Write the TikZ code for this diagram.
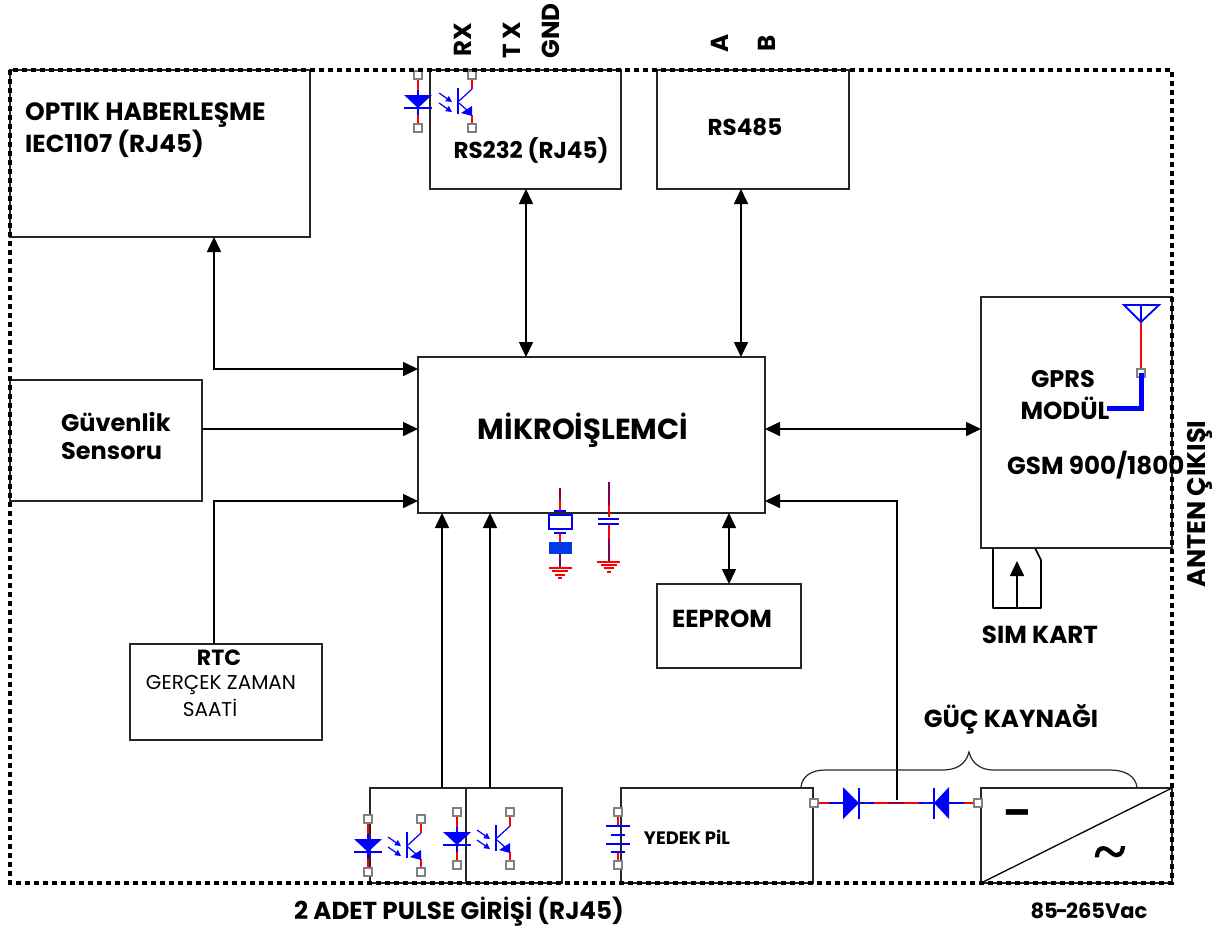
\documentclass[tikz,border=0pt]{standalone}
\usepackage{fontspec}
\setmainfont{Poppins}[BoldFont={Poppins Bold}]
\newfontfamily\tildefont[FakeBold=2]{Liberation Serif}
\usetikzlibrary{arrows.meta,calc}
\definecolor{wred}{RGB}{255,0,0}
\definecolor{wblue}{RGB}{0,0,255}
\definecolor{wpur}{RGB}{128,0,80}
\tikzset{
  box/.style={draw=black!85,line width=1.3pt,anchor=north west,inner sep=0pt,outer sep=0pt},
  conn/.style={draw=black,line width=1.6pt},
  tipone/.style={conn,-{Triangle[length=15pt,width=14pt]}},
  tiptwo/.style={conn,{Triangle[length=15pt,width=14pt]}-{Triangle[length=15pt,width=14pt]}},
  lab/.style={font=\bfseries\fontsize{24.6}{26}\selectfont,inner sep=0pt,text=black},
  labl/.style={lab,anchor=west},
  port/.style={draw=black!50,fill=white,line width=1.6pt},
  rw/.style={draw=wred,line width=1.8pt},
  bw/.style={draw=wblue,line width=1.8pt},
  pw/.style={draw=wpur,line width=1.8pt},
  brace/.style={draw=black!85,line width=1.2pt},
}
\newcommand{\pport}[2]{\draw[port] (#1-4,#2-4) rectangle (#1+4,#2+4);}
\newcommand{\pled}[2]{% x, y of the upper port
  \draw[rw] (#1,#2+4) -- (#1,#2+15);
  \draw[rw] (#1,#2+40) -- (#1,#2+49);
  \draw[bw] (#1,#2+15) -- (#1,#2+40);
  \fill[wblue] (#1-14,#2+20) -- (#1+14,#2+20) -- (#1,#2+33) -- cycle;
  \draw[bw] (#1-14,#2+33) -- (#1+14,#2+33);
  \pport{#1}{#2}\pport{#1}{#2+53}}
\newcommand{\pptr}[2]{% x, y of the upper port
  \draw[rw] (#1,#2+4) -- (#1,#2+14);
  \draw[rw] (#1,#2+40) -- (#1,#2+49);
  \draw[bw] (#1-14,#2+13) -- (#1-14,#2+39);
  \draw[bw,line width=1.2pt] (#1,#2+14) -- (#1-13,#2+26);
  \draw[bw,line width=1.2pt] (#1-13,#2+28) -- (#1-4,#2+36);
  \fill[wblue] (#1,#2+31) -- (#1,#2+41) -- (#1-11,#2+38) -- cycle;
  \draw[bw,line width=1.2pt,-{Triangle[length=6pt,width=6pt]}] (#1-33,#2+18) -- (#1-20,#2+27);
  \draw[bw,line width=1.2pt,-{Triangle[length=6pt,width=6pt]}] (#1-33,#2+28) -- (#1-20,#2+37);
  \pport{#1}{#2}\pport{#1}{#2+53}}
\begin{document}
\begin{tikzpicture}[x=1pt,y=-1pt]
\useasboundingbox (0,0) rectangle (1220,929);
% boxes
\node[box,minimum width=300pt,minimum height=167pt] (optik) at (10,70) {};
\node[box,minimum width=191pt,minimum height=119pt] (rs232) at (430,70) {};
\node[box,minimum width=192pt,minimum height=119pt] (rs485) at (657,70) {};
\node[box,minimum width=192pt,minimum height=121pt] (guv) at (10,380) {};
\node[box,minimum width=347pt,minimum height=156pt] (mikro) at (418,357) {};
\node[box,minimum width=191pt,minimum height=251pt] (gprs) at (981,297) {};
\node[box,minimum width=144pt,minimum height=84pt] (eeprom) at (657,584) {};
\node[box,minimum width=192pt,minimum height=96pt] (rtc) at (130,644) {};
\node[box,minimum width=96pt,minimum height=95pt] (puls1) at (370,788) {};
\node[box,minimum width=96pt,minimum height=95pt] (puls2) at (466,788) {};
\node[box,minimum width=192pt,minimum height=95pt] (pil) at (621,788) {};
\node[box,minimum width=191pt,minimum height=95pt] (conv) at (981,788) {};
\draw[black,line width=1.3pt] (conv.south west) -- (conv.north east);
% connector guides
\coordinate (optc) at (214,369);
\coordinate (rtcc) at (214,501);
\coordinate (a232) at (526,300);
\coordinate (a485) at (741,300);
\coordinate (aeep) at (729,550);
\coordinate (ap1) at (442,700);
\coordinate (ap2) at (490,700);
\coordinate (pwr) at (897,501);
\coordinate (pwrend) at (897,800);
\coordinate (ym) at (600,429);
\coordinate (simtail) at (1017,608);
\coordinate (simhead) at (1017,561);
% connectors
\draw[tiptwo] (optc |- optik.south) -- (optc) -- (optc -| mikro.west);
\draw[tiptwo] (a232 |- rs232.south) -- (a232 |- mikro.north);
\draw[tiptwo] (a485 |- rs485.south) -- (a485 |- mikro.north);
\draw[tipone] (ym -| guv.east) -- (ym -| mikro.west);
\draw[tipone] (rtcc |- rtc.north) -- (rtcc) -- (rtcc -| mikro.west);
\draw[tiptwo] (ym -| mikro.east) -- (ym -| gprs.west);
\draw[tiptwo] (aeep |- mikro.south) -- (aeep |- eeprom.north);
\draw[tipone] (ap1 |- puls1.north) -- (ap1 |- mikro.south);
\draw[tipone] (ap2 |- puls1.north) -- (ap2 |- mikro.south);
\draw[tipone] (pwrend) -- (pwr) -- (pwr -| mikro.east);
\draw[tipone] (simtail) -- (simhead);
% sim card
\draw[black,line width=1.6pt,line join=round] (993,548) -- (993,608) -- (1041,608) -- (1041,560) -- (1035,548);
% crystal
\draw[pw] (560,488) -- (560,500);
\draw[rw] (560,500) -- (560,511);
\draw[bw,line width=2pt] (554,511) -- (566,511);
\draw[bw,line width=1.8pt] (549,515) rectangle (572,529);
\draw[bw,line width=2pt] (554,533) -- (566,533);
\draw[rw,line width=2pt] (560,533) -- (560,542);
\fill[blue!75!cyan!90!black] (549,542) rectangle (572,554);
\draw[pw] (560,554) -- (560,567);
\draw[rw,line width=2pt] (549,568) -- (572,568) (552,571) -- (568,571) (555,575) -- (565,575) (558,578) -- (562,578);
% capacitor
\draw[pw] (609,482) -- (609,505);
\draw[rw] (609,505) -- (609,517);
\draw[bw,line width=2pt] (598,519) -- (619,519) (598,524) -- (619,524);
\draw[rw] (609,525) -- (609,539);
\draw[pw] (609,539) -- (609,562);
\draw[rw,line width=2pt] (597,562) -- (620,562) (601,565) -- (617,565) (604,568) -- (614,568) (607,572) -- (611,572);
% antenna
\draw[rw] (1141,322) -- (1141,370);
\draw[bw] (1124,305) -- (1159,305) -- (1141,322) -- cycle (1141,305) -- (1141,322);
\pport{1141}{373}
\draw[wblue,line width=5pt] (1141,373) -- (1141,408) -- (1107,408);
% opto icons
\pled{418}{75}\pptr{472}{75}
\pled{368}{819}\pptr{421}{819}
\pled{457}{812}\pptr{510}{812}
% battery
\draw[rw] (618,815) -- (618,826) (618,852) -- (618,865);
\draw[bw] (606,826) -- (630,826) (611,835) -- (625,835) (606,844) -- (630,844) (611,852) -- (625,852);
\pport{618}{812}\pport{618}{865}
% diodes
\draw[rw] (817,803) -- (829,803) (874,803) -- (888,803) (904,803) -- (919,803) (964,803) -- (976,803);
\draw[pw] (888,803) -- (904,803);
\draw[bw] (829,803) -- (844,803) (859,803) -- (874,803) (919,803) -- (934,803) (949,803) -- (964,803);
\fill[wblue] (843,787) -- (859,803) -- (843,819) -- cycle;
\draw[bw] (859,788) -- (859,819);
\fill[wblue] (949,787) -- (934,803) -- (949,819) -- cycle;
\draw[bw] (934,788) -- (934,819);
\pport{814}{803}\pport{978}{803}
% brace
\draw[brace] (801,787) .. controls (802,776) and (812,770) .. (825,770) -- (943,770) .. controls (955,770) and (966,765) .. (969,752) .. controls (972,765) and (983,770) .. (993,770) -- (1110,770) .. controls (1125,770) and (1136,776) .. (1137,788);
% outer dotted frame
\draw[black,line width=4.5pt,dash pattern=on 5pt off 4pt] (10,70) rectangle (1172,883);
% labels
\node[labl,font=\bfseries\fontsize{25}{27}\selectfont] (t1) at (25,115) {OPTIK HABERLEŞME};
\node[labl] (t2) at (25,144) {IEC1107 (RJ45)};
\node[lab,font=\bfseries\fontsize{23}{25}\selectfont] (t3) at (531,150) {RS232 (RJ45)};
\node[lab,font=\bfseries\fontsize{23}{25}\selectfont] (t4) at (745,127) {RS485};
\node[lab,rotate=90] (t5) at (463,40) {RX};
\node[lab,rotate=90] (t6) at (512,40) {T\kern 4pt X};
\node[lab,rotate=90] (t7) at (551,31) {GND};
\node[lab,rotate=90] (t8) at (720,43) {A};
\node[lab,rotate=90] (t9) at (767,43) {B};
\node[labl,font=\bfseries\fontsize{24}{26}\selectfont] (t10) at (61,422) {Güvenlik};
\node[labl,font=\bfseries\fontsize{24}{26}\selectfont] (t11) at (61,451) {Sensoru};
\node[lab,font=\bfseries\fontsize{29}{31}\selectfont] (t12) at (583,430) {MİKROİŞLEMCİ};
\node[lab,font=\bfseries\fontsize{24}{26}\selectfont] (t13) at (1063,379) {GPRS};
\node[lab] (t14) at (1065,408) {MODÜL};
\node[labl] (t15) at (1007,465) {GSM 900/1800};
\node[lab,rotate=90,font=\bfseries\fontsize{25.5}{27}\selectfont] (t16) at (1200,504) {ANTEN ÇIKIŞI};
\node[lab] (t17) at (722,619) {EEPROM};
\node[lab,font=\bfseries\fontsize{22}{24}\selectfont] (t18) at (219,658) {RTC};
\node[lab,font=\fontsize{20}{22}\selectfont] (t19) at (221,685) {GERÇEK ZAMAN};
\node[lab,font=\fontsize{20}{22}\selectfont] (t20) at (210,708) {SAATİ};
\node[lab] (t21) at (1040,635) {SIM KART};
\node[lab] (t22) at (1011,719) {GÜÇ KAYNAĞI};
\node[lab,font=\bfseries\fontsize{18}{20}\selectfont] (t23) at (687,837) {YEDEK PiL};
\node[lab] (t24) at (459,912) {2 ADET PULSE GİRİŞİ (RJ45)};
\node[lab,font=\bfseries\fontsize{21}{23}\selectfont] (t25) at (1089,911) {85\kern-2pt-\kern-2pt265Vac};
\node[lab,font=\bfseries\fontsize{40}{42}\selectfont] (t26) at (1017,818) {–};
\node[lab,font=\tildefont\fontsize{60}{62}\selectfont] (t27) at (1110,859) {\textasciitilde};
\end{tikzpicture}
\end{document}
